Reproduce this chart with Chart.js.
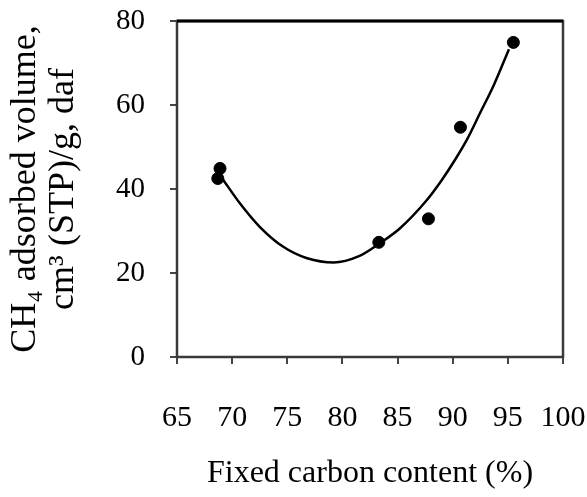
<!DOCTYPE html>
<html>
<head>
<meta charset="utf-8">
<script src="https://cdn.jsdelivr.net/npm/chart.js@4.4.0/dist/chart.umd.min.js"></script>
<style>
  html, body { margin: 0; padding: 0; background: #fff; }
  #wrap { width: 587px; height: 497px; }
</style>
</head>
<body>
<div id="wrap"><canvas id="myChart"></canvas></div>
<script>
// measured points
const fixedCarbon = [68.9, 68.7, 83.3, 87.8, 90.7, 95.5];
const ch4Volume = [44.9, 42.5, 27.3, 32.9, 54.7, 74.9];

// trend line
const trendX = [69.1, 70.7, 72.5, 74.6, 76.8, 79.2, 81.5, 83.4, 85.2, 87.6, 89.0, 90.2, 91.3, 92.5, 93.7, 95.1];
const trendY = [42.5, 36.6, 31.0, 26.3, 23.5, 22.5, 24.0, 27.1, 30.6, 37.2, 42.1, 46.9, 51.8, 58.2, 64.6, 73.3];

const xTicks = [65, 70, 75, 80, 85, 90, 95, 100];
const yTicks = [0, 20, 40, 60, 80];

const serif = 'Liberation Serif';

function toPoints(xs, ys) {
    return xs.map((x, i) => ({ x: x, y: ys[i] }));
}

// box round the plot area
const frame = {
    id: 'frame',
    afterDraw(chart) {
        const a = chart.chartArea;
        const ctx = chart.ctx;
        ctx.save();
        ctx.strokeStyle = '#3a3a3a';
        ctx.lineWidth = 2.5;
        ctx.strokeRect(a.left, a.top, a.right - a.left, a.bottom - a.top);
        ctx.strokeStyle = '#000';
        ctx.lineWidth = 3;
        ctx.beginPath();
        ctx.moveTo(a.left, a.top);
        ctx.lineTo(a.right, a.top);
        ctx.stroke();
        ctx.restore();
    }
};

function drawChart() {
    const ctx = document.getElementById('myChart');
    new Chart(ctx, {
        type: 'scatter',
        data: {
            datasets: [{
                type: 'line',
                data: toPoints(trendX, trendY),
                borderColor: '#000',
                borderWidth: 2.5,
                pointRadius: 0,
                cubicInterpolationMode: 'monotone',
                fill: false
            }, {
                data: toPoints(fixedCarbon, ch4Volume),
                backgroundColor: '#000',
                borderColor: '#000',
                pointRadius: 6,
                pointHoverRadius: 6
            }]
        },
        plugins: [frame],
        options: {
            responsive: true,
            maintainAspectRatio: false,
            animation: false,
            layout: { padding: { left: 0, right: 24, top: 21, bottom: 0 } },
            plugins: {
                legend: { display: false },
                tooltip: { enabled: false }
            },
            scales: {
                x: {
                    type: 'linear',
                    min: 65,
                    max: 100,
                    afterBuildTicks: (s) => { s.ticks = xTicks.map(v => ({ value: v })); },
                    afterFit: (s) => {
                        s.height = 497 - 357;
                        s.paddingLeft = 0;
                        s.paddingRight = 0;
                    },
                    grid: { drawOnChartArea: false, drawTicks: true, tickLength: 7, color: '#444', lineWidth: 2 },
                    border: { display: false },
                    ticks: { color: '#000', padding: 36, font: { family: serif, size: 30 } },
                    title: {
                        display: true,
                        text: 'Fixed carbon content (%)',
                        color: '#000',
                        font: { family: serif, size: 32 },
                        padding: { top: 0, bottom: 4 }
                    }
                },
                y: {
                    min: 0,
                    max: 80,
                    afterBuildTicks: (s) => { s.ticks = yTicks.map(v => ({ value: v })); },
                    afterFit: (s) => {
                        s.width = 177;
                        s.paddingTop = 0;
                        s.paddingBottom = 0;
                    },
                    grid: { drawOnChartArea: false, drawTicks: true, tickLength: 7, color: '#444', lineWidth: 2 },
                    border: { display: false },
                    ticks: { color: '#000', padding: 25, font: { family: serif, size: 29 } },
                    title: {
                        display: true,
                        text: ['CH\u2084 adsorbed volume,', 'cm\u00b3 (STP)/g, daf'],
                        color: '#000',
                        font: { family: serif, size: 36, lineHeight: 1.06 },
                        padding: { top: 6, bottom: 0 }
                    }
                }
            }
        }
    });
}

drawChart();
</script>
</body>
</html>
